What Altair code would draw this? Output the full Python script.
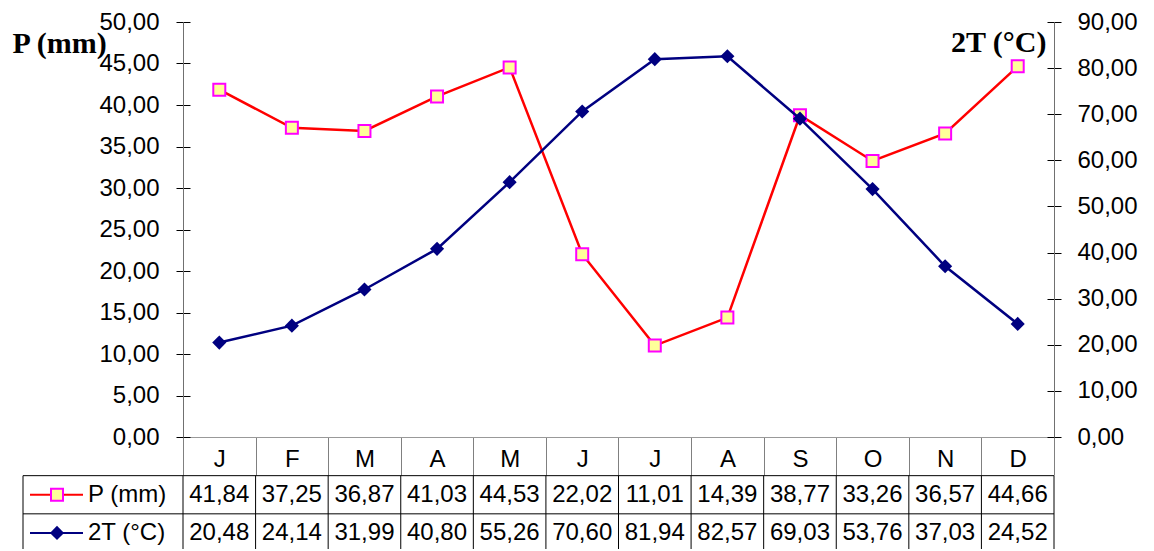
import altair as alt
import pandas as pd

# ---------------- data ----------------
MONTHS = ["Jan", "Feb", "Mar", "Apr", "May", "Jun", "Jul", "Aug", "Sep", "Oct", "Nov", "Dec"]
TICK_LABELS = ["J", "F", "M", "A", "M", "J", "J", "A", "S", "O", "N", "D"]
P_MM = [41.84, 37.25, 36.87, 41.03, 44.53, 22.02, 11.01, 14.39, 38.77, 33.26, 36.57, 44.66]
T2_C = [20.48, 24.14, 31.99, 40.80, 55.26, 70.60, 81.94, 82.57, 69.03, 53.76, 37.03, 24.52]
SERIES = ["P (mm)", "2T (°C)"]
P_TICKS = [0, 5, 10, 15, 20, 25, 30, 35, 40, 45, 50]
T_TICKS = [0, 10, 20, 30, 40, 50, 60, 70, 80, 90]

# ---------------- layout / style ----------------
W, H = 871, 415
LEGEND_W = 160
FONT = "Liberation Sans"
SERIF = "Liberation Serif"
RED, NAVY = "#FF0000", "#000080"


def fmt(v):
    return f"{v:.2f}".replace(".", ",")


df = pd.DataFrame({"month": MONTHS, "P": P_MM, "T": T2_C})

table_rows = []
for i, m in enumerate(MONTHS):
    table_rows.append({"month": m, "row": 1, "label": fmt(P_MM[i])})
    table_rows.append({"month": m, "row": 2, "label": fmt(T2_C[i])})
table_df = pd.DataFrame(table_rows)
legend_df = pd.DataFrame({"series": SERIES, "row": [1, 2]})
hline_df = pd.DataFrame({"row": [1, 2]})
vline_df = pd.DataFrame({"month": MONTHS})
edge_df = pd.DataFrame({"month": [MONTHS[-1]]})

num_expr = "replace(format(datum.value, '.2f'), '.', ',')"
month_expr = ("[" + ",".join(f"'{t}'" for t in TICK_LABELS) + "][indexof(["
              + ",".join(f"'{m}'" for m in MONTHS) + "], datum.value)]")

xscale = alt.Scale(type="band", domain=MONTHS, paddingInner=0, paddingOuter=0)
x_axis = alt.Axis(orient="bottom", title=None, tickBand="extent", tickSize=38,
                  tickColor="#808080", domainColor="#999999", labelExpr=month_expr,
                  labelFont=FONT, labelFontSize=24, labelColor="black",
                  labelBaseline="middle", labelPadding=-16, labelAngle=0, grid=False)
X = alt.X("month:N", scale=xscale, axis=x_axis, bandPosition=0.5)

p_scale = alt.Scale(domain=[0, 50], nice=False, zero=True)
t_scale = alt.Scale(domain=[0, 90], nice=False, zero=True)
row_scale = alt.Scale(domain=[0, 3], range=[H + 0.5, H + 115], zero=False, nice=False)

p_axis = alt.Axis(orient="left", values=P_TICKS, labelExpr=num_expr, labelFont=FONT,
                  labelFontSize=24, labelColor="black", labelPadding=17, tickSize=7,
                  tickColor="black", domainColor="#707070", grid=False,
                  title="P (mm)", titleFont=SERIF, titleFontSize=30, titleFontWeight="bold",
                  titleColor="black", titleAngle=0, titleAlign="left",
                  titleBaseline="alphabetic", titleX=-171, titleY=30)
t_axis = alt.Axis(orient="right", values=T_TICKS, labelExpr=num_expr, labelFont=FONT,
                  labelFontSize=24, labelColor="black", labelPadding=16, tickSize=7,
                  tickColor="black", domainColor="#707070", grid=False,
                  title="2T (°C)", titleFont=SERIF, titleFontSize=30, titleFontWeight="bold",
                  titleColor="black", titleAngle=0, titleAlign="right",
                  titleBaseline="alphabetic", titleX=-8, titleY=29)

base = alt.Chart(df)

# inner halves of the cross ticks
p_inner = base.mark_point(opacity=0).encode(
    x=X, y=alt.Y("P:Q", scale=p_scale,
                 axis=alt.Axis(orient="left", values=P_TICKS, labels=False, domain=False,
                               tickSize=7, tickColor="black", offset=-7, title=None, grid=False)))
t_inner = base.mark_point(opacity=0).encode(
    x=X, y=alt.Y("T:Q", scale=t_scale,
                 axis=alt.Axis(orient="right", values=T_TICKS, labels=False, domain=False,
                               tickSize=7, tickColor="black", offset=-7, title=None, grid=False)))

RY = alt.Y("rc:Q", scale=row_scale, axis=None)

# table
tbl_text = alt.Chart(table_df).transform_calculate(rc="datum.row + 0.5").mark_text(
    font=FONT, fontSize=24, color="black", baseline="middle", align="center").encode(
    x=X, y=RY, text="label:N")
tbl_h = alt.Chart(hline_df).mark_rule(color="black", strokeWidth=1).encode(
    x=alt.value(-LEGEND_W), x2=alt.value(W), y=alt.Y("row:Q", scale=row_scale, axis=None))
tbl_v = alt.Chart(vline_df).mark_rule(color="black", strokeWidth=1).encode(
    x=alt.X("month:N", scale=xscale, axis=x_axis, bandPosition=0),
    y=alt.Y(datum=1, type="quantitative", scale=row_scale, axis=None), y2=alt.Y2(datum=3))
tbl_edge = alt.Chart(edge_df).mark_rule(color="black", strokeWidth=1).encode(
    x=alt.X("month:N", scale=xscale, axis=x_axis, bandPosition=1),
    y=alt.Y(datum=1, type="quantitative", scale=row_scale, axis=None), y2=alt.Y2(datum=3))
tbl_left = alt.Chart(edge_df).mark_rule(color="black", strokeWidth=1).encode(
    x=alt.value(-LEGEND_W),
    y=alt.Y(datum=1, type="quantitative", scale=row_scale, axis=None), y2=alt.Y2(datum=3))

leg_line = alt.Chart(legend_df).transform_calculate(rc="datum.row + 0.5").mark_rule(
    strokeWidth=2).encode(
    x=alt.value(-153), x2=alt.value(-100), y=RY,
    color=alt.Color("series:N", scale=alt.Scale(domain=SERIES, range=[RED, NAVY]), legend=None))
leg_p = alt.Chart(legend_df).transform_filter(f"datum.series == '{SERIES[0]}'").transform_calculate(
    rc="datum.row + 0.5").mark_point(shape="square", filled=True, fill="#FFFF99",
                                     stroke="#FF00FF", strokeWidth=2, size=144, opacity=1).encode(
    x=alt.value(-126), y=RY)
leg_t = alt.Chart(legend_df).transform_filter(f"datum.series == '{SERIES[1]}'").transform_calculate(
    rc="datum.row + 0.5").mark_point(shape="diamond", filled=True, color=NAVY,
                                     size=200, opacity=1).encode(
    x=alt.value(-126), y=RY)
leg_text = alt.Chart(legend_df).transform_calculate(rc="datum.row + 0.5").mark_text(
    font=FONT, fontSize=24, color="black", align="left", baseline="middle").encode(
    x=alt.value(-95), y=RY, text="series:N")

# series
p_line = base.mark_line(color=RED, strokeWidth=2.5).encode(
    x=X, y=alt.Y("P:Q", scale=p_scale, axis=p_axis))
p_pts = base.mark_point(shape="square", filled=True, fill="#FFFF99", stroke="#FF00FF",
                        strokeWidth=2, size=144, opacity=1).encode(
    x=X, y=alt.Y("P:Q", scale=p_scale, axis=None))
t_line = base.mark_line(color=NAVY, strokeWidth=2.5).encode(
    x=X, y=alt.Y("T:Q", scale=t_scale, axis=t_axis))
t_pts = base.mark_point(shape="diamond", filled=True, color=NAVY, size=200, opacity=1).encode(
    x=X, y=alt.Y("T:Q", scale=t_scale, axis=None))

chart = alt.layer(
    p_inner, t_inner,
    tbl_h, tbl_v, tbl_edge, tbl_left, tbl_text, leg_line, leg_p, leg_t, leg_text,
    p_line, p_pts, t_line, t_pts,
).resolve_scale(
    y="independent"
).properties(
    width=W, height=H,
    padding={"left": 175, "top": 14, "right": 92, "bottom": 112},
    autosize=alt.AutoSizeParams(type="none"),
    background="white",
).configure_view(stroke=None)

chart.save("out.html", embed_options={"renderer": "svg", "actions": False})
